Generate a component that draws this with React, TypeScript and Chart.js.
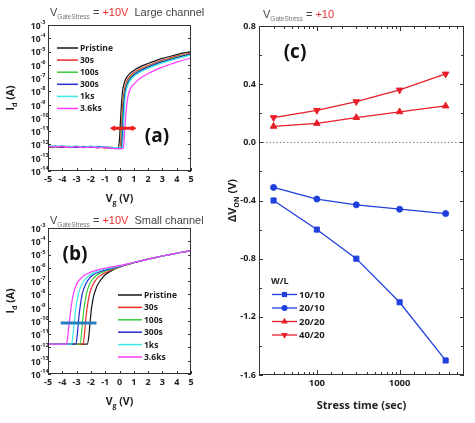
import React, { useEffect, useRef } from "react";
import { Chart, registerables } from "chart.js";

Chart.register(...registerables);

const W = 475;
const H = 423;

// ---------- panels (a) and (b): transfer curves, [Vg (V), log10 Id (A)] ----------
const CURVE_LABELS = ["Pristine", "30s", "100s", "300s", "1ks", "3.6ks"];
const CURVE_COLORS = ["#151515", "#ee2a2a", "#3ccc3c", "#2a2ad0", "#3de8e8", "#ff38ff"];
const Y_DECADES = [-14, -13, -12, -11, -10, -9, -8, -7, -6, -5, -4, -3];

const A_PRISTINE = [[-5,-12.15],[-4.5,-12.22],[-4,-12.12],[-3.5,-12.2],[-3,-12.14],[-2.5,-12.22],[-2,-12.16],[-1.5,-12.24],[-1,-12.18],[-0.5,-12.3],[-0.1,-12.25],[0,-11.6],[0.05,-10.6],[0.1,-9.6],[0.2,-8.1],[0.3,-7.5],[0.4,-7.15],[0.5,-6.95],[0.7,-6.68],[1,-6.42],[1.5,-6.12],[2,-5.9],[2.5,-5.7],[3,-5.52],[3.5,-5.37],[4,-5.23],[4.5,-5.1],[5,-5.0]];
const A_30S = [[-5,-12.2],[-4.5,-12.14],[-4,-12.22],[-3.5,-12.16],[-3,-12.2],[-2.5,-12.15],[-2,-12.22],[-1.5,-12.18],[-1,-12.26],[-0.5,-12.22],[0,-12.3],[0.1,-11.6],[0.15,-10.5],[0.2,-9.4],[0.3,-8.2],[0.4,-7.6],[0.5,-7.25],[0.6,-7.05],[0.8,-6.78],[1,-6.6],[1.5,-6.28],[2,-6.05],[2.5,-5.85],[3,-5.66],[3.5,-5.5],[4,-5.35],[4.5,-5.22],[5,-5.1]];
const A_100S = [[-5,-12.1],[-4.5,-12.2],[-4,-12.15],[-3.5,-12.24],[-3,-12.18],[-2.5,-12.2],[-2,-12.14],[-1.5,-12.22],[-1,-12.2],[-0.5,-12.28],[0,-12.32],[0.1,-12.3],[0.15,-11.5],[0.2,-10.2],[0.25,-9.3],[0.3,-8.6],[0.4,-7.85],[0.5,-7.45],[0.6,-7.2],[0.8,-6.9],[1,-6.7],[1.5,-6.37],[2,-6.13],[2.5,-5.92],[3,-5.73],[3.5,-5.57],[4,-5.42],[4.5,-5.29],[5,-5.17]];
const A_300S = [[-5,-12.18],[-4.5,-12.12],[-4,-12.2],[-3.5,-12.14],[-3,-12.22],[-2.5,-12.16],[-2,-12.2],[-1.5,-12.15],[-1,-12.22],[-0.5,-12.25],[0,-12.28],[0.15,-12.3],[0.2,-11.4],[0.25,-10.2],[0.3,-9.1],[0.4,-8.05],[0.5,-7.6],[0.6,-7.32],[0.8,-6.98],[1,-6.77],[1.5,-6.43],[2,-6.18],[2.5,-5.97],[3,-5.78],[3.5,-5.62],[4,-5.47],[4.5,-5.33],[5,-5.2]];
const A_1KS = [[-5,-12.08],[-4.5,-12.16],[-4,-12.1],[-3.5,-12.18],[-3,-12.12],[-2.5,-12.2],[-2,-12.12],[-1.5,-12.2],[-1,-12.16],[-0.5,-12.22],[0,-12.26],[0.2,-12.28],[0.25,-11.6],[0.3,-10.2],[0.35,-9.2],[0.4,-8.45],[0.5,-7.8],[0.6,-7.48],[0.8,-7.1],[1,-6.88],[1.5,-6.52],[2,-6.26],[2.5,-6.05],[3,-5.85],[3.5,-5.69],[4,-5.54],[4.5,-5.4],[5,-5.27]];
const A_36KS = [[-5,-12.12],[-4.5,-12.2],[-4,-12.14],[-3.5,-12.22],[-3,-12.16],[-2.5,-12.24],[-2,-12.18],[-1.5,-12.26],[-1,-12.2],[-0.5,-12.3],[0,-12.32],[0.25,-12.3],[0.3,-12.0],[0.35,-11.2],[0.4,-10.4],[0.5,-9.1],[0.6,-8.35],[0.7,-7.95],[0.8,-7.72],[1,-7.45],[1.5,-6.98],[2,-6.66],[2.5,-6.4],[3,-6.17],[3.5,-5.98],[4,-5.8],[4.5,-5.64],[5,-5.5]];

const B_PRISTINE = [[-5,-11.75],[-2.25,-11.75],[-2.15,-11.2],[-2.05,-10.0],[-1.95,-9.0],[-1.8,-8.1],[-1.6,-7.45],[-1.4,-7.05],[-1.2,-6.75],[-1.0,-6.52],[-0.5,-6.18],[0,-5.95],[0.5,-5.77],[1,-5.62],[1.5,-5.48],[2,-5.35],[2.5,-5.23],[3,-5.11],[3.5,-5.0],[4,-4.9],[4.5,-4.8],[5,-4.71]];
const B_30S = [[-5,-11.75],[-2.55,-11.75],[-2.45,-11.0],[-2.35,-9.8],[-2.25,-8.9],[-2.1,-8.0],[-1.9,-7.35],[-1.7,-6.98],[-1.5,-6.72],[-1.2,-6.48],[-1.0,-6.38],[-0.5,-6.13],[0,-5.93],[0.5,-5.76],[1,-5.62],[1.5,-5.48],[2,-5.35],[2.5,-5.23],[3,-5.11],[3.5,-5.0],[4,-4.9],[4.5,-4.8],[5,-4.71]];
const B_100S = [[-5,-11.75],[-2.75,-11.75],[-2.65,-10.9],[-2.55,-9.7],[-2.45,-8.8],[-2.3,-7.9],[-2.1,-7.25],[-1.9,-6.9],[-1.7,-6.65],[-1.4,-6.42],[-1.0,-6.25],[-0.5,-6.08],[0,-5.91],[0.5,-5.75],[1,-5.61],[1.5,-5.48],[2,-5.35],[2.5,-5.23],[3,-5.11],[3.5,-5.0],[4,-4.9],[4.5,-4.8],[5,-4.71]];
const B_300S = [[-5,-11.75],[-3.05,-11.75],[-2.95,-11.0],[-2.85,-9.8],[-2.75,-8.9],[-2.6,-7.95],[-2.4,-7.3],[-2.2,-6.92],[-1.9,-6.58],[-1.5,-6.35],[-1.0,-6.17],[-0.5,-6.03],[0,-5.89],[0.5,-5.74],[1,-5.6],[1.5,-5.48],[2,-5.35],[2.5,-5.23],[3,-5.11],[3.5,-5.0],[4,-4.9],[4.5,-4.8],[5,-4.71]];
const B_1KS = [[-5,-11.75],[-3.35,-11.75],[-3.25,-11.0],[-3.15,-10.0],[-3.05,-9.0],[-2.9,-8.1],[-2.7,-7.4],[-2.5,-7.0],[-2.2,-6.65],[-1.8,-6.38],[-1.3,-6.18],[-0.5,-5.98],[0,-5.87],[0.5,-5.73],[1,-5.6],[1.5,-5.48],[2,-5.35],[2.5,-5.23],[3,-5.11],[3.5,-5.0],[4,-4.9],[4.5,-4.8],[5,-4.71]];
const B_36KS = [[-5,-11.75],[-3.7,-11.75],[-3.6,-11.0],[-3.5,-10.0],[-3.4,-9.1],[-3.25,-8.1],[-3.05,-7.35],[-2.8,-6.9],[-2.5,-6.6],[-2.0,-6.32],[-1.5,-6.15],[-1.0,-6.03],[-0.5,-5.93],[0,-5.84],[0.5,-5.72],[1,-5.6],[1.5,-5.48],[2,-5.35],[2.5,-5.23],[3,-5.11],[3.5,-5.0],[4,-4.9],[4.5,-4.8],[5,-4.71]];

const LARGE_CURVES = [A_PRISTINE, A_30S, A_100S, A_300S, A_1KS, A_36KS];
const SMALL_CURVES = [B_PRISTINE, B_30S, B_100S, B_300S, B_1KS, B_36KS];

const ARROW_A = [[-0.44, -10.78], [0.96, -10.78]];
const ARROW_B = [[-4.11, -10.16], [-1.61, -10.16]];

// ---------- panel (c): threshold shift vs stress time ----------
const STRESS_TIME = [30, 100, 300, 1000, 3600];
const WL_LABELS = ["10/10", "20/10", "20/20", "40/20"];
const DV_10_10 = [-0.40, -0.60, -0.80, -1.10, -1.50];
const DV_20_10 = [-0.31, -0.39, -0.43, -0.46, -0.49];
const DV_20_20 = [0.11, 0.13, 0.17, 0.21, 0.25];
const DV_40_20 = [0.17, 0.22, 0.28, 0.36, 0.47];

const BLUE = "#2040dd";
const RED = "#e81e2a";
const TEXT = "#222";

type Part = { t: string; s: number; b?: boolean; c?: string; dy?: number; f?: string };

function fontOf(p: Part) {
  return `${p.b ? "bold " : ""}${p.s}px ${p.f || "'Open Sans'"}`;
}

function rich(ctx: CanvasRenderingContext2D, parts: Part[], x: number, y: number, align: string) {
  let total = 0;
  for (const p of parts) {
    ctx.font = fontOf(p);
    total += ctx.measureText(p.t).width;
  }
  let cx = align === "center" ? x - total / 2 : align === "right" ? x - total : x;
  ctx.textAlign = "left";
  ctx.textBaseline = "alphabetic";
  for (const p of parts) {
    ctx.font = fontOf(p);
    ctx.fillStyle = p.c || TEXT;
    ctx.fillText(p.t, cx, y + (p.dy || 0));
    cx += ctx.measureText(p.t).width;
  }
}

function richRotated(ctx: CanvasRenderingContext2D, parts: Part[], x: number, y: number) {
  ctx.save();
  ctx.translate(x, y);
  ctx.rotate(-Math.PI / 2);
  rich(ctx, parts, 0, 0, "center");
  ctx.restore();
}

function titleParts(suffix: string, value: string): Part[] {
  const f = "'Liberation Sans'";
  return [
    { t: "V", s: 11, c: "#444", f },
    { t: "GateStress", s: 6.5, c: "#777", dy: 3, f },
    { t: " = ", s: 11, c: "#444", f },
    { t: value, s: 11, c: "#e62e2e", f },
    { t: suffix, s: 11, c: "#444", f },
  ];
}

function transferConfig(p: any) {
  const curveSets = p.curves.map((pts: number[][], i: number) => ({
    label: CURVE_LABELS[i],
    data: pts.map(([x, l]) => ({ x, y: Math.pow(10, l) })),
    borderColor: CURVE_COLORS[i],
    borderWidth: 1.2,
    pointRadius: 0,
    cubicInterpolationMode: "monotone",
    fill: false,
  }));
  const arrowSet = {
    label: "arrow",
    data: p.arrow.map(([x, l]: number[]) => ({ x, y: Math.pow(10, l) })),
    borderColor: p.arrowColor,
    backgroundColor: p.arrowColor,
    borderWidth: 3,
    pointStyle: "triangle",
    pointRotation: [270, 90],
    pointRadius: p.arrowHeads ? 2.6 : 0,
    pointBorderWidth: 1,
  };
  const datasets = [arrowSet, ...curveSets.slice().reverse()];

  const deco = {
    id: "transferDeco",
    afterDatasetsDraw(chart: any) {
      const ctx = chart.ctx as CanvasRenderingContext2D;
      const a = chart.chartArea;
      const xs = chart.scales.x;
      const ys = chart.scales.y;
      ctx.save();
      ctx.strokeStyle = "#333";
      ctx.lineWidth = 1;
      ctx.strokeRect(a.left + 0.5, a.top + 0.5, a.right - a.left - 1, a.bottom - a.top - 1);
      ctx.beginPath();
      for (const e of Y_DECADES) {
        const py = Math.round(ys.getPixelForValue(Math.pow(10, e))) + 0.5;
        ctx.moveTo(a.left, py);
        ctx.lineTo(a.left + 3, py);
        ctx.moveTo(a.right - 3, py);
        ctx.lineTo(a.right, py);
      }
      for (const t of xs.ticks) {
        const px = Math.round(xs.getPixelForValue(t.value)) + 0.5;
        ctx.moveTo(px, a.bottom);
        ctx.lineTo(px, a.bottom - 3);
      }
      ctx.stroke();
      // y tick labels 10^n
      for (const e of Y_DECADES) {
        const py = ys.getPixelForValue(Math.pow(10, e));
        ctx.font = "bold 8.5px 'Open Sans'";
        ctx.fillStyle = TEXT;
        ctx.textAlign = "right";
        ctx.textBaseline = "middle";
        ctx.fillText("10", a.left - 7.5, py + 1.5);
        ctx.font = "bold 5.5px 'Open Sans'";
        ctx.textAlign = "left";
        ctx.fillText(String(e), a.left - 7.5, py - 2.5);
      }
      // axis titles
      richRotated(ctx, [
        { t: "I", s: 10.5, b: true },
        { t: "d", s: 7, b: true, dy: 3 },
        { t: " (A)", s: 10.5, b: true },
      ], 14, (a.top + a.bottom) / 2);
      rich(ctx, [
        { t: "V", s: 10.5, b: true },
        { t: "g", s: 7, b: true, dy: 3 },
        { t: " (V)", s: 10.5, b: true },
      ], (a.left + a.right) / 2, p.xTitleY, "center");
      // title
      rich(ctx, titleParts(p.titleSuffix, "+10V"), 50, p.titleY, "left");
      // legend
      const lg = p.legend;
      CURVE_LABELS.forEach((lab, i) => {
        const y = lg.y0 + i * lg.dy;
        ctx.strokeStyle = CURVE_COLORS[i];
        ctx.lineWidth = 1.5;
        ctx.beginPath();
        ctx.moveTo(lg.x0, y);
        ctx.lineTo(lg.x1, y);
        ctx.stroke();
        ctx.font = "bold 8.5px 'Open Sans'";
        ctx.fillStyle = TEXT;
        ctx.textAlign = "left";
        ctx.textBaseline = "middle";
        ctx.fillText(lab, lg.x1 + 2, y + 0.5);
      });
      // panel letter
      ctx.font = "bold 19px 'Open Sans'";
      ctx.fillStyle = "#111";
      ctx.textAlign = "center";
      ctx.textBaseline = "middle";
      ctx.fillText(p.letter, p.letterX, p.letterY);
      ctx.restore();
    },
  };

  return {
    type: "line",
    data: { datasets },
    options: {
      animation: false,
      responsive: false,
      devicePixelRatio: 1,
      events: [],
      layout: { padding: { left: 0, right: W - 191, top: p.top, bottom: 0 } },
      plugins: { legend: { display: false }, tooltip: { enabled: false } },
      scales: {
        x: {
          type: "linear",
          min: -5,
          max: 5,
          ticks: { stepSize: 1, autoSkip: false, maxRotation: 0, padding: 3, color: TEXT, font: { family: "'Open Sans'", weight: "bold", size: 9 } },
          grid: { display: false, drawTicks: false },
          border: { display: false },
          afterFit: (s: any) => { s.height = H - p.bottom; },
        },
        y: {
          type: "logarithmic",
          min: 1e-14,
          max: 1e-3,
          ticks: { display: false },
          grid: { display: false, drawTicks: false },
          border: { display: false },
          afterBuildTicks: (s: any) => { s.ticks = Y_DECADES.map((e) => ({ value: Math.pow(10, e) })); },
          afterFit: (s: any) => { s.width = 48; },
        },
      },
    },
    plugins: [deco],
  };
}

function isDecade(v: number) {
  const l = Math.log10(v);
  return Math.abs(l - Math.round(l)) < 1e-6;
}

function drawMarker(ctx: CanvasRenderingContext2D, style: string, x: number, y: number, r: number, color: string) {
  ctx.fillStyle = color;
  ctx.beginPath();
  if (style === "rect") {
    const s = r * Math.SQRT1_2;
    ctx.rect(x - s, y - s, 2 * s, 2 * s);
  } else if (style === "circle") {
    ctx.arc(x, y, r, 0, Math.PI * 2);
  } else {
    const dir = style === "down" ? -1 : 1;
    ctx.moveTo(x, y - dir * r);
    ctx.lineTo(x - r * 0.866, y + dir * r * 0.5);
    ctx.lineTo(x + r * 0.866, y + dir * r * 0.5);
    ctx.closePath();
  }
  ctx.fill();
}

function shiftConfig() {
  const series = [
    { vals: DV_10_10, color: BLUE, style: "rect", r: 3.6, rot: 0 },
    { vals: DV_20_10, color: BLUE, style: "circle", r: 3, rot: 0 },
    { vals: DV_20_20, color: RED, style: "triangle", r: 3.8, rot: 0 },
    { vals: DV_40_20, color: RED, style: "triangle", r: 3.8, rot: 180 },
  ];
  const legendStyles = ["rect", "circle", "up", "down"];
  const datasets = series.map((s, i) => ({
    label: WL_LABELS[i],
    data: STRESS_TIME.map((t, k) => ({ x: t, y: s.vals[k] })),
    borderColor: s.color,
    backgroundColor: s.color,
    borderWidth: 1.3,
    pointStyle: s.style,
    pointRotation: s.rot,
    pointRadius: s.r,
    pointBorderWidth: 1,
    tension: 0,
  }));

  const deco = {
    id: "shiftDeco",
    beforeDatasetsDraw(chart: any) {
      const ctx = chart.ctx as CanvasRenderingContext2D;
      const a = chart.chartArea;
      const py = Math.round(chart.scales.y.getPixelForValue(0)) + 0.5;
      ctx.save();
      ctx.strokeStyle = "#888";
      ctx.lineWidth = 1;
      ctx.setLineDash([1.5, 2]);
      ctx.beginPath();
      ctx.moveTo(a.left, py);
      ctx.lineTo(a.right, py);
      ctx.stroke();
      ctx.restore();
    },
    afterDatasetsDraw(chart: any) {
      const ctx = chart.ctx as CanvasRenderingContext2D;
      const a = chart.chartArea;
      const xs = chart.scales.x;
      const ys = chart.scales.y;
      ctx.save();
      ctx.strokeStyle = "#333";
      ctx.lineWidth = 1;
      ctx.strokeRect(a.left + 0.5, a.top + 0.5, a.right - a.left - 1, a.bottom - a.top - 1);
      ctx.beginPath();
      for (const t of ys.ticks) {
        const py = Math.round(ys.getPixelForValue(t.value)) + 0.5;
        const major = Math.abs(Math.round(t.value * 10)) % 4 === 0;
        const len = major ? 4 : 3;
        ctx.moveTo(a.left, py);
        ctx.lineTo(a.left + len, py);
        ctx.moveTo(a.right - len, py);
        ctx.lineTo(a.right, py);
      }
      for (const t of xs.ticks) {
        if (t.value <= xs.min || t.value >= xs.max) continue;
        const px = Math.round(xs.getPixelForValue(t.value)) + 0.5;
        const len = isDecade(t.value) ? 5 : 3;
        ctx.moveTo(px, a.bottom);
        ctx.lineTo(px, a.bottom - len);
        ctx.moveTo(px, a.top);
        ctx.lineTo(px, a.top + len);
      }
      ctx.stroke();
      // titles
      rich(ctx, titleParts("", "+10"), 263, 18, "left");
      richRotated(ctx, [
        { t: "\u0394V", s: 11, b: true },
        { t: "ON", s: 7, b: true, dy: 3 },
        { t: " (V)", s: 11, b: true },
      ], 236, (a.top + a.bottom) / 2);
      rich(ctx, [{ t: "Stress time (sec)", s: 11, b: true }], (a.left + a.right) / 2, 409, "center");
      // legend
      ctx.font = "bold 9px 'Open Sans'";
      ctx.fillStyle = TEXT;
      ctx.textAlign = "left";
      ctx.textBaseline = "middle";
      ctx.fillText("W/L", 271, 281);
      WL_LABELS.forEach((lab, i) => {
        const y = 294.5 + i * 13.5;
        const s = series[i];
        ctx.strokeStyle = s.color;
        ctx.lineWidth = 1.3;
        ctx.beginPath();
        ctx.moveTo(272, y);
        ctx.lineTo(297, y);
        ctx.stroke();
        drawMarker(ctx, legendStyles[i], 284.5, y, s.r, s.color);
        ctx.font = "bold 9.5px 'Open Sans'";
        ctx.fillStyle = TEXT;
        ctx.fillText(lab, 299, y + 0.5);
      });
      ctx.font = "bold 19px 'Open Sans'";
      ctx.fillStyle = "#111";
      ctx.textAlign = "center";
      ctx.fillText("(c)", 295, 53);
      ctx.restore();
    },
  };

  return {
    type: "line",
    data: { datasets },
    options: {
      animation: false,
      responsive: false,
      devicePixelRatio: 1,
      events: [],
      layout: { padding: { left: 0, right: W - 464, top: 26, bottom: 0 } },
      plugins: { legend: { display: false }, tooltip: { enabled: false } },
      scales: {
        x: {
          type: "logarithmic",
          min: 20,
          max: 6000,
          ticks: {
            autoSkip: false,
            maxRotation: 0,
            padding: 3,
            color: TEXT,
            font: { family: "'Open Sans'", weight: "bold", size: 9.5 },
            callback: (v: number) => (isDecade(v) ? String(Math.round(v)) : ""),
          },
          grid: { display: false, drawTicks: false },
          border: { display: false },
          afterFit: (s: any) => { s.height = H - 375; },
        },
        y: {
          type: "linear",
          min: -1.6,
          max: 0.8,
          ticks: {
            stepSize: 0.2,
            autoSkip: false,
            padding: 3,
            color: TEXT,
            font: { family: "'Open Sans'", weight: "bold", size: 9 },
            callback: (v: number) => {
              if (Math.abs(Math.round(v * 10)) % 4 !== 0) return "";
              return Math.abs(v) < 1e-9 ? "0.0" : v.toFixed(1);
            },
          },
          grid: { display: false, drawTicks: false },
          border: { display: false },
          afterFit: (s: any) => { s.width = 259; },
        },
      },
    },
    plugins: [deco],
  };
}

function ChartCanvas({ make }: { make: () => any }) {
  const ref = useRef<HTMLCanvasElement>(null);
  useEffect(() => {
    const chart = new Chart(ref.current as HTMLCanvasElement, make());
    return () => chart.destroy();
  }, []);
  return (
    <canvas
      ref={ref}
      width={W}
      height={H}
      style={{ position: "absolute", left: 0, top: 0, width: W, height: H }}
    />
  );
}

export default function App() {
  return (
    <div style={{ position: "absolute", left: 0, top: 0, width: W, height: H, background: "#fff", overflow: "hidden" }}>
      <ChartCanvas
        make={() =>
          transferConfig({
            curves: LARGE_CURVES,
            arrow: ARROW_A,
            arrowColor: "#ee1c1c",
            arrowHeads: true,
            top: 25,
            bottom: 171,
            xTitleY: 202,
            titleY: 16,
            titleSuffix: "  Large channel",
            legend: { x0: 57, x1: 78, y0: 48, dy: 12.1 },
            letter: "(a)",
            letterX: 157,
            letterY: 137,
          })
        }
      />
      <ChartCanvas
        make={() =>
          transferConfig({
            curves: SMALL_CURVES,
            arrow: ARROW_B,
            arrowColor: "#2a7cc0",
            arrowHeads: false,
            top: 228,
            bottom: 374,
            xTitleY: 405,
            titleY: 224,
            titleSuffix: "  Small channel",
            legend: { x0: 118, x1: 142, y0: 295, dy: 12.4 },
            letter: "(b)",
            letterX: 75,
            letterY: 255,
          })
        }
      />
      <ChartCanvas make={shiftConfig} />
    </div>
  );
}
